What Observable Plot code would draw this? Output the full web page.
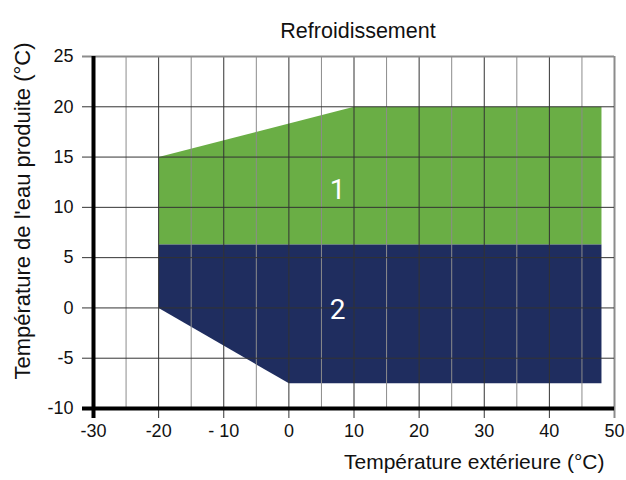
<!DOCTYPE html>
<html>
<head>
<meta charset="utf-8">
<script src="https://cdn.jsdelivr.net/npm/d3@7"></script>
<script src="https://cdn.jsdelivr.net/npm/@observablehq/plot@0.6"></script>
<style>
  html, body { margin: 0; padding: 0; background: #fff; }
  svg { display: block; }
</style>
</head>
<body>
<div id="chart"></div>
<script>
const title = "Refroidissement";
const xLabel = "Température extérieure (°C)";
const yLabel = "Température de l'eau produite (°C)";

const xTicks = [-30, -20, -10, 0, 10, 20, 30, 40, 50];
const xTickLabels = ["-30", "-20", "- 10", "0", "10", "20", "30", "40", "50"];
const xMinor = [-25, -15, -5, 5, 15, 25, 35, 45];
const yTicks = [-10, -5, 0, 5, 10, 15, 20, 25];
const yTickLabels = ["-10", "-5", "0", "5", "10", "15", "20", "25"];

// Zone 1 (green) polygon
const zone1X = [-20, 10, 48, 48, -20];
const zone1Y = [15, 20, 20, 6.3, 6.3];
// Zone 2 (navy) polygon
const zone2X = [-20, 48, 48, 0, -20];
const zone2Y = [6.3, 6.3, -7.5, -7.5, 0];

const zoneNames = ["1", "2"];
const zoneLabelX = [7.5, 7.5];
const zoneLabelY = [11.7, -0.2];

const green = "#6aae45";
const navy = "#1f2d5f";
const font = "'Liberation Sans', Arial, sans-serif";

const zone1 = zone1X.map((x, i) => ({x, y: zone1Y[i]}));
const zone2 = zone2X.map((x, i) => ({x, y: zone2Y[i]}));
const labels = zoneNames.map((t, i) => ({t, x: zoneLabelX[i], y: zoneLabelY[i]}));

const chart = Plot.plot({
  width: 626,
  height: 480,
  marginLeft: 93,
  marginRight: 12,
  marginTop: 56,
  marginBottom: 73,
  style: {fontFamily: font, background: "#fff"},
  x: {domain: [-30, 50], range: [93, 614]},
  y: {domain: [-10, 25], range: [408, 56]},
  marks: [
    Plot.line(zone1, {x: "x", y: "y", fill: green, stroke: "none"}),
    Plot.line(zone2, {x: "x", y: "y", fill: navy, stroke: "none"}),
    // minor vertical grid (gray)
    Plot.ruleX(xMinor, {stroke: "#8c8c8c", strokeWidth: 1}),
    // major vertical grid (dark) with ticks below
    Plot.ruleX(xTicks.filter(d => d > -30 && d < 50), {stroke: "#333", strokeWidth: 1, insetBottom: -11}),
    Plot.ruleX([50], {stroke: "#8c8c8c", strokeWidth: 2, insetBottom: -11}),
    // horizontal grid with ticks to the left
    Plot.ruleY(yTicks.filter(d => d > -10 && d < 25), {stroke: "#333", strokeWidth: 1, insetLeft: -11}),
    Plot.ruleY([25], {stroke: "#8c8c8c", strokeWidth: 2, insetLeft: -11}),
    // thick axes
    Plot.ruleX([-30], {stroke: "#000", strokeWidth: 4, insetBottom: -11}),
    Plot.ruleY([-10], {stroke: "#000", strokeWidth: 4, insetLeft: -11}),
    Plot.axisY(yTicks, {tickSize: 0, tickPadding: 20, fontSize: 18, fill: "#111", label: null,
      tickFormat: d => yTickLabels[yTicks.indexOf(d)]}),
    Plot.axisX(xTicks, {tickSize: 0, tickPadding: 17, fontSize: 18, fill: "#111", label: null,
      tickFormat: d => xTickLabels[xTicks.indexOf(d)]}),
    Plot.text(labels, {x: "x", y: "y", text: "t", fill: "#fff", fontSize: 28, fontFamily: "Roboto, 'Liberation Sans', sans-serif"}),
    Plot.text([title], {frameAnchor: "top", dx: 4, dy: -34, fontSize: 21.5, fill: "#111"}),
    Plot.text([xLabel], {frameAnchor: "bottom-right", textAnchor: "end", dx: -10, dy: 61, fontSize: 21, fill: "#111"}),
    Plot.text([yLabel], {frameAnchor: "left", textAnchor: "middle", rotate: -90, dx: -71, dy: -21, fontSize: 22, fill: "#111"})
  ]
});
document.getElementById("chart").appendChild(chart);
</script>
</body>
</html>
